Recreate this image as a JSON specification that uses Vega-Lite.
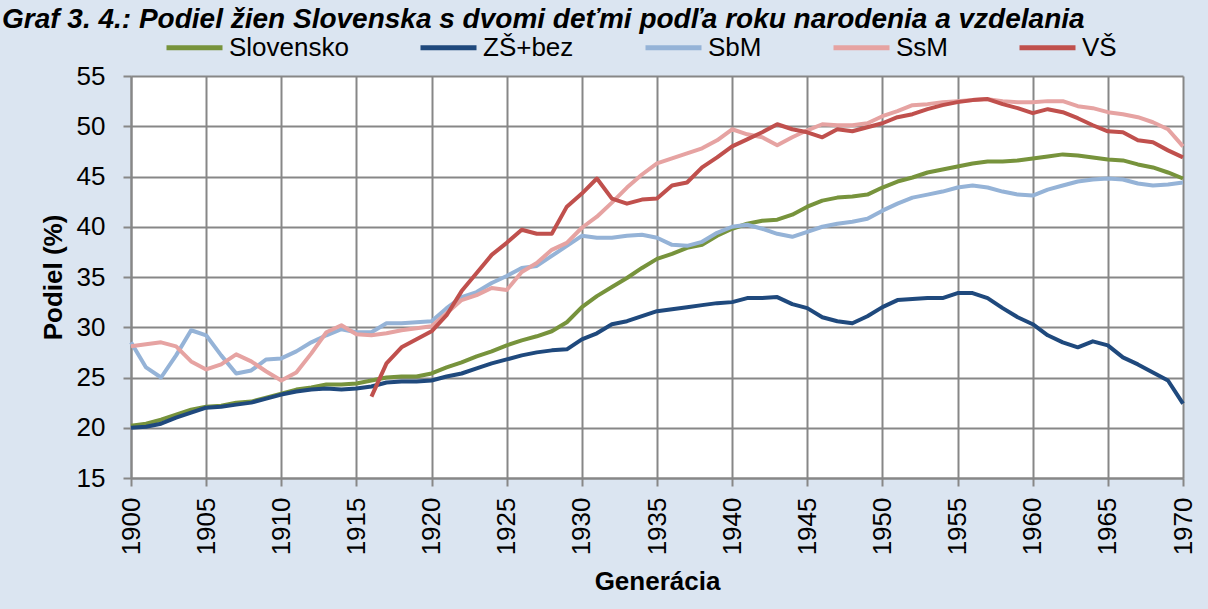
{
  "$schema": "https://vega.github.io/schema/vega-lite/v6.json",
  "width": 1052,
  "height": 402,
  "autosize": {"type": "none"},
  "padding": {"left": 131, "top": 76, "right": 25, "bottom": 131},
  "background": "#dbe5f1",
  "config": {"font": "Liberation Sans", "view": {"fill": "white", "stroke": null}},
  "title": {"text": "Graf 3. 4.: Podiel žien Slovenska s dvomi deťmi podľa roku narodenia a vzdelania", "anchor": "start", "frame": "group", "dx": -129, "dy": 41, "baseline": "alphabetic", "offset": 2, "fontSize": 28, "fontStyle": "italic", "fontWeight": "bold", "color": "black"},
  "data": {"values": [
    {"group":"Slovensko","year":1900,"value":20.2},{"group":"Slovensko","year":1901,"value":20.4},{"group":"Slovensko","year":1902,"value":20.8},{"group":"Slovensko","year":1903,"value":21.3},{"group":"Slovensko","year":1904,"value":21.8},{"group":"Slovensko","year":1905,"value":22.1},{"group":"Slovensko","year":1906,"value":22.2},{"group":"Slovensko","year":1907,"value":22.5},{"group":"Slovensko","year":1908,"value":22.6},{"group":"Slovensko","year":1909,"value":23.0},
    {"group":"Slovensko","year":1910,"value":23.4},{"group":"Slovensko","year":1911,"value":23.8},{"group":"Slovensko","year":1912,"value":24.0},{"group":"Slovensko","year":1913,"value":24.3},{"group":"Slovensko","year":1914,"value":24.3},{"group":"Slovensko","year":1915,"value":24.4},{"group":"Slovensko","year":1916,"value":24.7},{"group":"Slovensko","year":1917,"value":25.0},{"group":"Slovensko","year":1918,"value":25.1},{"group":"Slovensko","year":1919,"value":25.1},
    {"group":"Slovensko","year":1920,"value":25.4},{"group":"Slovensko","year":1921,"value":26.0},{"group":"Slovensko","year":1922,"value":26.5},{"group":"Slovensko","year":1923,"value":27.1},{"group":"Slovensko","year":1924,"value":27.6},{"group":"Slovensko","year":1925,"value":28.2},{"group":"Slovensko","year":1926,"value":28.7},{"group":"Slovensko","year":1927,"value":29.1},{"group":"Slovensko","year":1928,"value":29.6},{"group":"Slovensko","year":1929,"value":30.5},
    {"group":"Slovensko","year":1930,"value":32.0},{"group":"Slovensko","year":1931,"value":33.1},{"group":"Slovensko","year":1932,"value":34.0},{"group":"Slovensko","year":1933,"value":34.9},{"group":"Slovensko","year":1934,"value":35.9},{"group":"Slovensko","year":1935,"value":36.8},{"group":"Slovensko","year":1936,"value":37.3},{"group":"Slovensko","year":1937,"value":37.9},{"group":"Slovensko","year":1938,"value":38.2},{"group":"Slovensko","year":1939,"value":39.1},
    {"group":"Slovensko","year":1940,"value":39.8},{"group":"Slovensko","year":1941,"value":40.3},{"group":"Slovensko","year":1942,"value":40.6},{"group":"Slovensko","year":1943,"value":40.7},{"group":"Slovensko","year":1944,"value":41.2},{"group":"Slovensko","year":1945,"value":42.0},{"group":"Slovensko","year":1946,"value":42.6},{"group":"Slovensko","year":1947,"value":42.9},{"group":"Slovensko","year":1948,"value":43.0},{"group":"Slovensko","year":1949,"value":43.2},
    {"group":"Slovensko","year":1950,"value":43.9},{"group":"Slovensko","year":1951,"value":44.5},{"group":"Slovensko","year":1952,"value":44.9},{"group":"Slovensko","year":1953,"value":45.4},{"group":"Slovensko","year":1954,"value":45.7},{"group":"Slovensko","year":1955,"value":46.0},{"group":"Slovensko","year":1956,"value":46.3},{"group":"Slovensko","year":1957,"value":46.5},{"group":"Slovensko","year":1958,"value":46.5},{"group":"Slovensko","year":1959,"value":46.6},
    {"group":"Slovensko","year":1960,"value":46.8},{"group":"Slovensko","year":1961,"value":47.0},{"group":"Slovensko","year":1962,"value":47.2},{"group":"Slovensko","year":1963,"value":47.1},{"group":"Slovensko","year":1964,"value":46.9},{"group":"Slovensko","year":1965,"value":46.7},{"group":"Slovensko","year":1966,"value":46.6},{"group":"Slovensko","year":1967,"value":46.2},{"group":"Slovensko","year":1968,"value":45.9},{"group":"Slovensko","year":1969,"value":45.4},{"group":"Slovensko","year":1970,"value":44.8},

    {"group":"ZŠ+bez","year":1900,"value":20.0},{"group":"ZŠ+bez","year":1901,"value":20.1},{"group":"ZŠ+bez","year":1902,"value":20.4},{"group":"ZŠ+bez","year":1903,"value":21.0},{"group":"ZŠ+bez","year":1904,"value":21.5},{"group":"ZŠ+bez","year":1905,"value":22.0},{"group":"ZŠ+bez","year":1906,"value":22.1},{"group":"ZŠ+bez","year":1907,"value":22.3},{"group":"ZŠ+bez","year":1908,"value":22.5},{"group":"ZŠ+bez","year":1909,"value":22.9},
    {"group":"ZŠ+bez","year":1910,"value":23.3},{"group":"ZŠ+bez","year":1911,"value":23.6},{"group":"ZŠ+bez","year":1912,"value":23.8},{"group":"ZŠ+bez","year":1913,"value":23.9},{"group":"ZŠ+bez","year":1914,"value":23.8},{"group":"ZŠ+bez","year":1915,"value":23.9},{"group":"ZŠ+bez","year":1916,"value":24.1},{"group":"ZŠ+bez","year":1917,"value":24.5},{"group":"ZŠ+bez","year":1918,"value":24.6},{"group":"ZŠ+bez","year":1919,"value":24.6},
    {"group":"ZŠ+bez","year":1920,"value":24.7},{"group":"ZŠ+bez","year":1921,"value":25.1},{"group":"ZŠ+bez","year":1922,"value":25.4},{"group":"ZŠ+bez","year":1923,"value":25.9},{"group":"ZŠ+bez","year":1924,"value":26.4},{"group":"ZŠ+bez","year":1925,"value":26.8},{"group":"ZŠ+bez","year":1926,"value":27.2},{"group":"ZŠ+bez","year":1927,"value":27.5},{"group":"ZŠ+bez","year":1928,"value":27.7},{"group":"ZŠ+bez","year":1929,"value":27.8},
    {"group":"ZŠ+bez","year":1930,"value":28.8},{"group":"ZŠ+bez","year":1931,"value":29.4},{"group":"ZŠ+bez","year":1932,"value":30.3},{"group":"ZŠ+bez","year":1933,"value":30.6},{"group":"ZŠ+bez","year":1934,"value":31.1},{"group":"ZŠ+bez","year":1935,"value":31.6},{"group":"ZŠ+bez","year":1936,"value":31.8},{"group":"ZŠ+bez","year":1937,"value":32.0},{"group":"ZŠ+bez","year":1938,"value":32.2},{"group":"ZŠ+bez","year":1939,"value":32.4},
    {"group":"ZŠ+bez","year":1940,"value":32.5},{"group":"ZŠ+bez","year":1941,"value":32.9},{"group":"ZŠ+bez","year":1942,"value":32.9},{"group":"ZŠ+bez","year":1943,"value":33.0},{"group":"ZŠ+bez","year":1944,"value":32.3},{"group":"ZŠ+bez","year":1945,"value":31.9},{"group":"ZŠ+bez","year":1946,"value":31.0},{"group":"ZŠ+bez","year":1947,"value":30.6},{"group":"ZŠ+bez","year":1948,"value":30.4},{"group":"ZŠ+bez","year":1949,"value":31.1},
    {"group":"ZŠ+bez","year":1950,"value":32.0},{"group":"ZŠ+bez","year":1951,"value":32.7},{"group":"ZŠ+bez","year":1952,"value":32.8},{"group":"ZŠ+bez","year":1953,"value":32.9},{"group":"ZŠ+bez","year":1954,"value":32.9},{"group":"ZŠ+bez","year":1955,"value":33.4},{"group":"ZŠ+bez","year":1956,"value":33.4},{"group":"ZŠ+bez","year":1957,"value":32.9},{"group":"ZŠ+bez","year":1958,"value":31.9},{"group":"ZŠ+bez","year":1959,"value":31.0},
    {"group":"ZŠ+bez","year":1960,"value":30.3},{"group":"ZŠ+bez","year":1961,"value":29.2},{"group":"ZŠ+bez","year":1962,"value":28.5},{"group":"ZŠ+bez","year":1963,"value":28.0},{"group":"ZŠ+bez","year":1964,"value":28.6},{"group":"ZŠ+bez","year":1965,"value":28.2},{"group":"ZŠ+bez","year":1966,"value":27.0},{"group":"ZŠ+bez","year":1967,"value":26.3},{"group":"ZŠ+bez","year":1968,"value":25.5},{"group":"ZŠ+bez","year":1969,"value":24.7},{"group":"ZŠ+bez","year":1970,"value":22.4},

    {"group":"SbM","year":1900,"value":28.5},{"group":"SbM","year":1901,"value":26.0},{"group":"SbM","year":1902,"value":25.0},{"group":"SbM","year":1903,"value":27.2},{"group":"SbM","year":1904,"value":29.7},{"group":"SbM","year":1905,"value":29.2},{"group":"SbM","year":1906,"value":27.2},{"group":"SbM","year":1907,"value":25.4},{"group":"SbM","year":1908,"value":25.7},{"group":"SbM","year":1909,"value":26.8},
    {"group":"SbM","year":1910,"value":26.9},{"group":"SbM","year":1911,"value":27.6},{"group":"SbM","year":1912,"value":28.5},{"group":"SbM","year":1913,"value":29.2},{"group":"SbM","year":1914,"value":29.8},{"group":"SbM","year":1915,"value":29.5},{"group":"SbM","year":1916,"value":29.5},{"group":"SbM","year":1917,"value":30.4},{"group":"SbM","year":1918,"value":30.4},{"group":"SbM","year":1919,"value":30.5},
    {"group":"SbM","year":1920,"value":30.6},{"group":"SbM","year":1921,"value":31.9},{"group":"SbM","year":1922,"value":33.0},{"group":"SbM","year":1923,"value":33.5},{"group":"SbM","year":1924,"value":34.4},{"group":"SbM","year":1925,"value":35.1},{"group":"SbM","year":1926,"value":35.9},{"group":"SbM","year":1927,"value":36.1},{"group":"SbM","year":1928,"value":37.1},{"group":"SbM","year":1929,"value":38.1},
    {"group":"SbM","year":1930,"value":39.1},{"group":"SbM","year":1931,"value":38.9},{"group":"SbM","year":1932,"value":38.9},{"group":"SbM","year":1933,"value":39.1},{"group":"SbM","year":1934,"value":39.2},{"group":"SbM","year":1935,"value":38.9},{"group":"SbM","year":1936,"value":38.2},{"group":"SbM","year":1937,"value":38.1},{"group":"SbM","year":1938,"value":38.5},{"group":"SbM","year":1939,"value":39.4},
    {"group":"SbM","year":1940,"value":40.0},{"group":"SbM","year":1941,"value":40.2},{"group":"SbM","year":1942,"value":39.8},{"group":"SbM","year":1943,"value":39.3},{"group":"SbM","year":1944,"value":39.0},{"group":"SbM","year":1945,"value":39.5},{"group":"SbM","year":1946,"value":40.0},{"group":"SbM","year":1947,"value":40.3},{"group":"SbM","year":1948,"value":40.5},{"group":"SbM","year":1949,"value":40.8},
    {"group":"SbM","year":1950,"value":41.6},{"group":"SbM","year":1951,"value":42.3},{"group":"SbM","year":1952,"value":42.9},{"group":"SbM","year":1953,"value":43.2},{"group":"SbM","year":1954,"value":43.5},{"group":"SbM","year":1955,"value":43.9},{"group":"SbM","year":1956,"value":44.1},{"group":"SbM","year":1957,"value":43.9},{"group":"SbM","year":1958,"value":43.5},{"group":"SbM","year":1959,"value":43.2},
    {"group":"SbM","year":1960,"value":43.1},{"group":"SbM","year":1961,"value":43.7},{"group":"SbM","year":1962,"value":44.1},{"group":"SbM","year":1963,"value":44.5},{"group":"SbM","year":1964,"value":44.7},{"group":"SbM","year":1965,"value":44.8},{"group":"SbM","year":1966,"value":44.7},{"group":"SbM","year":1967,"value":44.3},{"group":"SbM","year":1968,"value":44.1},{"group":"SbM","year":1969,"value":44.2},{"group":"SbM","year":1970,"value":44.4},

    {"group":"SsM","year":1900,"value":28.1},{"group":"SsM","year":1901,"value":28.3},{"group":"SsM","year":1902,"value":28.5},{"group":"SsM","year":1903,"value":28.1},{"group":"SsM","year":1904,"value":26.6},{"group":"SsM","year":1905,"value":25.8},{"group":"SsM","year":1906,"value":26.3},{"group":"SsM","year":1907,"value":27.3},{"group":"SsM","year":1908,"value":26.6},{"group":"SsM","year":1909,"value":25.6},
    {"group":"SsM","year":1910,"value":24.7},{"group":"SsM","year":1911,"value":25.5},{"group":"SsM","year":1912,"value":27.4},{"group":"SsM","year":1913,"value":29.5},{"group":"SsM","year":1914,"value":30.2},{"group":"SsM","year":1915,"value":29.3},{"group":"SsM","year":1916,"value":29.2},{"group":"SsM","year":1917,"value":29.4},{"group":"SsM","year":1918,"value":29.7},{"group":"SsM","year":1919,"value":29.9},
    {"group":"SsM","year":1920,"value":30.1},{"group":"SsM","year":1921,"value":31.4},{"group":"SsM","year":1922,"value":32.7},{"group":"SsM","year":1923,"value":33.2},{"group":"SsM","year":1924,"value":33.9},{"group":"SsM","year":1925,"value":33.7},{"group":"SsM","year":1926,"value":35.5},{"group":"SsM","year":1927,"value":36.4},{"group":"SsM","year":1928,"value":37.7},{"group":"SsM","year":1929,"value":38.4},
    {"group":"SsM","year":1930,"value":39.9},{"group":"SsM","year":1931,"value":41.0},{"group":"SsM","year":1932,"value":42.4},{"group":"SsM","year":1933,"value":43.9},{"group":"SsM","year":1934,"value":45.2},{"group":"SsM","year":1935,"value":46.3},{"group":"SsM","year":1936,"value":46.8},{"group":"SsM","year":1937,"value":47.3},{"group":"SsM","year":1938,"value":47.8},{"group":"SsM","year":1939,"value":48.6},
    {"group":"SsM","year":1940,"value":49.7},{"group":"SsM","year":1941,"value":49.2},{"group":"SsM","year":1942,"value":48.9},{"group":"SsM","year":1943,"value":48.1},{"group":"SsM","year":1944,"value":48.9},{"group":"SsM","year":1945,"value":49.6},{"group":"SsM","year":1946,"value":50.2},{"group":"SsM","year":1947,"value":50.1},{"group":"SsM","year":1948,"value":50.1},{"group":"SsM","year":1949,"value":50.3},
    {"group":"SsM","year":1950,"value":51.0},{"group":"SsM","year":1951,"value":51.5},{"group":"SsM","year":1952,"value":52.1},{"group":"SsM","year":1953,"value":52.2},{"group":"SsM","year":1954,"value":52.4},{"group":"SsM","year":1955,"value":52.5},{"group":"SsM","year":1956,"value":52.6},{"group":"SsM","year":1957,"value":52.7},{"group":"SsM","year":1958,"value":52.5},{"group":"SsM","year":1959,"value":52.4},
    {"group":"SsM","year":1960,"value":52.4},{"group":"SsM","year":1961,"value":52.5},{"group":"SsM","year":1962,"value":52.5},{"group":"SsM","year":1963,"value":52.0},{"group":"SsM","year":1964,"value":51.8},{"group":"SsM","year":1965,"value":51.4},{"group":"SsM","year":1966,"value":51.2},{"group":"SsM","year":1967,"value":50.9},{"group":"SsM","year":1968,"value":50.4},{"group":"SsM","year":1969,"value":49.7},{"group":"SsM","year":1970,"value":48.0},

    {"group":"VŠ","year":1916,"value":23.1},{"group":"VŠ","year":1917,"value":26.4},{"group":"VŠ","year":1918,"value":28.0},{"group":"VŠ","year":1919,"value":28.8},
    {"group":"VŠ","year":1920,"value":29.6},{"group":"VŠ","year":1921,"value":31.2},{"group":"VŠ","year":1922,"value":33.6},{"group":"VŠ","year":1923,"value":35.4},{"group":"VŠ","year":1924,"value":37.2},{"group":"VŠ","year":1925,"value":38.4},{"group":"VŠ","year":1926,"value":39.7},{"group":"VŠ","year":1927,"value":39.3},{"group":"VŠ","year":1928,"value":39.3},{"group":"VŠ","year":1929,"value":42.0},
    {"group":"VŠ","year":1930,"value":43.3},{"group":"VŠ","year":1931,"value":44.8},{"group":"VŠ","year":1932,"value":42.8},{"group":"VŠ","year":1933,"value":42.3},{"group":"VŠ","year":1934,"value":42.7},{"group":"VŠ","year":1935,"value":42.8},{"group":"VŠ","year":1936,"value":44.1},{"group":"VŠ","year":1937,"value":44.4},{"group":"VŠ","year":1938,"value":45.9},{"group":"VŠ","year":1939,"value":46.9},
    {"group":"VŠ","year":1940,"value":48.0},{"group":"VŠ","year":1941,"value":48.7},{"group":"VŠ","year":1942,"value":49.4},{"group":"VŠ","year":1943,"value":50.2},{"group":"VŠ","year":1944,"value":49.7},{"group":"VŠ","year":1945,"value":49.4},{"group":"VŠ","year":1946,"value":48.9},{"group":"VŠ","year":1947,"value":49.7},{"group":"VŠ","year":1948,"value":49.5},{"group":"VŠ","year":1949,"value":49.9},
    {"group":"VŠ","year":1950,"value":50.3},{"group":"VŠ","year":1951,"value":50.9},{"group":"VŠ","year":1952,"value":51.2},{"group":"VŠ","year":1953,"value":51.7},{"group":"VŠ","year":1954,"value":52.1},{"group":"VŠ","year":1955,"value":52.4},{"group":"VŠ","year":1956,"value":52.6},{"group":"VŠ","year":1957,"value":52.7},{"group":"VŠ","year":1958,"value":52.2},{"group":"VŠ","year":1959,"value":51.8},
    {"group":"VŠ","year":1960,"value":51.3},{"group":"VŠ","year":1961,"value":51.7},{"group":"VŠ","year":1962,"value":51.4},{"group":"VŠ","year":1963,"value":50.8},{"group":"VŠ","year":1964,"value":50.1},{"group":"VŠ","year":1965,"value":49.5},{"group":"VŠ","year":1966,"value":49.4},{"group":"VŠ","year":1967,"value":48.6},{"group":"VŠ","year":1968,"value":48.4},{"group":"VŠ","year":1969,"value":47.6},{"group":"VŠ","year":1970,"value":46.9}
  ]},
  "mark": {"type": "line", "strokeWidth": 4, "strokeJoin": "round", "strokeCap": "butt"},
  "encoding": {
    "x": {
      "field": "year", "type": "quantitative",
      "scale": {"domain": [1900, 1970], "nice": false, "zero": false},
      "axis": {
        "values": [1900,1905,1910,1915,1920,1925,1930,1935,1940,1945,1950,1955,1960,1965,1970],
        "format": "d", "labelAngle": -90, "labelFontSize": 26, "labelColor": "black", "labelPadding": 11,
        "tickSize": 8, "tickWidth": 2, "tickColor": "#878787",
        "domainColor": "#878787", "domainWidth": 2,
        "grid": true, "gridColor": "#878787", "gridWidth": 2,
        "title": "Generácia", "titleFontSize": 26, "titleFontWeight": "bold", "titleColor": "black", "titlePadding": 14
      }
    },
    "y": {
      "field": "value", "type": "quantitative",
      "scale": {"domain": [15, 55], "nice": false, "zero": false},
      "axis": {
        "values": [15,20,25,30,35,40,45,50,55],
        "labelFontSize": 26, "labelColor": "black", "labelPadding": 18,
        "tickSize": 8, "tickWidth": 2, "tickColor": "#878787",
        "domainColor": "#878787", "domainWidth": 2,
        "grid": true, "gridColor": "#878787", "gridWidth": 2,
        "title": "Podiel (%)", "titleFontSize": 26, "titleFontWeight": "bold", "titleColor": "black", "titlePadding": 10
      }
    },
    "color": {
      "field": "group", "type": "nominal",
      "scale": {"domain": ["Slovensko", "ZŠ+bez", "SbM", "SsM", "VŠ"], "range": ["#77933c", "#1f497d", "#95b3d7", "#e6a3a2", "#c0504d"]},
      "legend": {
        "orient": "none", "legendX": 33, "legendY": -59, "direction": "horizontal", "title": null,
        "symbolType": "stroke", "symbolSize": 3136, "symbolStrokeWidth": 5,
        "labelFontSize": 26, "labelColor": "black", "labelOffset": 4, "columnPadding": 61, "labelLimit": 400
      }
    }
  }
}
